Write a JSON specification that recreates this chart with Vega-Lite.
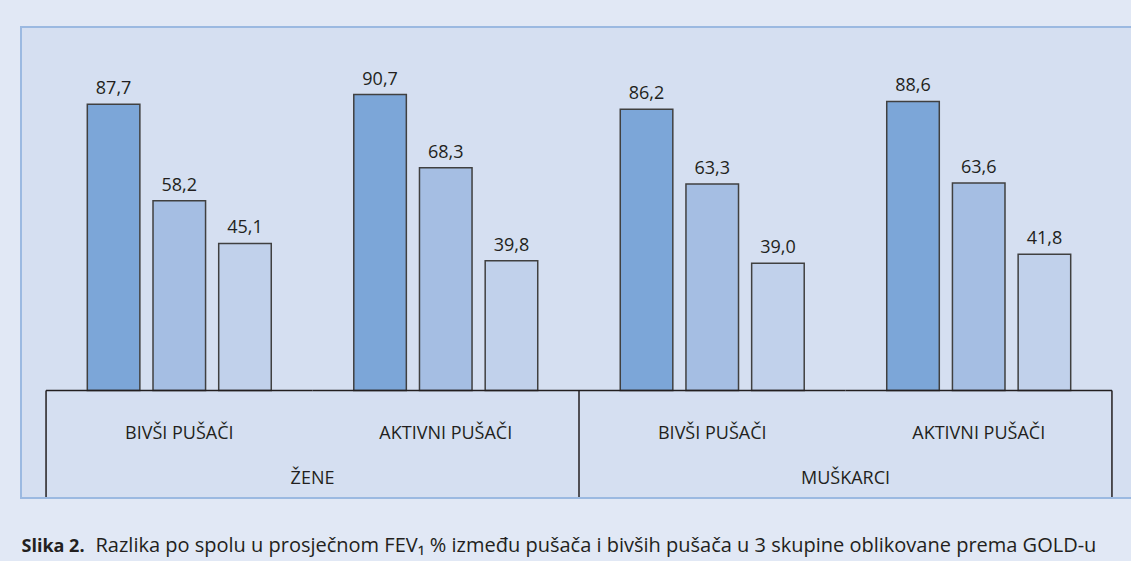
{
  "$schema": "https://vega.github.io/schema/vega-lite/v6.json",
  "width": 1116,
  "height": 471,
  "padding": {"left": 21, "top": 27, "right": 0, "bottom": 6},
  "background": "#e1e8f5",
  "config": {
    "view": {"fill": "#d5dff1", "stroke": "#9bb9e1", "strokeWidth": 2},
    "font": "Open Sans",
    "locale": {"number": {"decimal": ",", "thousands": ".", "grouping": [3], "currency": ["", " €"]}}
  },
  "datasets": {
    "stupci": [
      {"grupa": "ŽENE|BIVŠI PUŠAČI", "serija": "GOLD 1", "fev1": 87.7},
      {"grupa": "ŽENE|BIVŠI PUŠAČI", "serija": "GOLD 2", "fev1": 58.2},
      {"grupa": "ŽENE|BIVŠI PUŠAČI", "serija": "GOLD 3", "fev1": 45.1},
      {"grupa": "ŽENE|AKTIVNI PUŠAČI", "serija": "GOLD 1", "fev1": 90.7},
      {"grupa": "ŽENE|AKTIVNI PUŠAČI", "serija": "GOLD 2", "fev1": 68.3},
      {"grupa": "ŽENE|AKTIVNI PUŠAČI", "serija": "GOLD 3", "fev1": 39.8},
      {"grupa": "MUŠKARCI|BIVŠI PUŠAČI", "serija": "GOLD 1", "fev1": 86.2},
      {"grupa": "MUŠKARCI|BIVŠI PUŠAČI", "serija": "GOLD 2", "fev1": 63.3},
      {"grupa": "MUŠKARCI|BIVŠI PUŠAČI", "serija": "GOLD 3", "fev1": 39.0},
      {"grupa": "MUŠKARCI|AKTIVNI PUŠAČI", "serija": "GOLD 1", "fev1": 88.6},
      {"grupa": "MUŠKARCI|AKTIVNI PUŠAČI", "serija": "GOLD 2", "fev1": 63.6},
      {"grupa": "MUŠKARCI|AKTIVNI PUŠAČI", "serija": "GOLD 3", "fev1": 41.8}
    ],
    "skupine": [
      {"grupa": "ŽENE|BIVŠI PUŠAČI", "pusenje": "BIVŠI PUŠAČI"},
      {"grupa": "ŽENE|AKTIVNI PUŠAČI", "pusenje": "AKTIVNI PUŠAČI"},
      {"grupa": "MUŠKARCI|BIVŠI PUŠAČI", "pusenje": "BIVŠI PUŠAČI"},
      {"grupa": "MUŠKARCI|AKTIVNI PUŠAČI", "pusenje": "AKTIVNI PUŠAČI"}
    ],
    "spolovi": [
      {"grupa": "ŽENE|BIVŠI PUŠAČI", "spol": "ŽENE"},
      {"grupa": "MUŠKARCI|BIVŠI PUŠAČI", "spol": "MUŠKARCI"}
    ]
  },
  "encoding": {
    "x": {
      "field": "grupa",
      "type": "nominal",
      "sort": null,
      "scale": {
        "domain": ["ŽENE|BIVŠI PUŠAČI", "ŽENE|AKTIVNI PUŠAČI", "MUŠKARCI|BIVŠI PUŠAČI", "MUŠKARCI|AKTIVNI PUŠAČI"],
        "paddingInner": 0,
        "paddingOuter": 0.094
      },
      "title": "Razlika po spolu u prosječnom FEV₁ % između pušača i bivših pušača u 3 skupine oblikovane prema GOLD-u",
      "axis": {
        "labels": false, "ticks": false, "domain": false, "grid": false,
        "title": "Razlika po spolu u prosječnom FEV₁ % između pušača i bivših pušača u 3 skupine oblikovane prema GOLD-u",
        "titleX": 74, "titleY": 53, "titleAlign": "left", "titleAnchor": "start", "titleBaseline": "alphabetic",
        "titleFontSize": 20, "titleFontWeight": "normal", "titleColor": "#231f20", "titleFont": "Open Sans"
      }
    }
  },
  "layer": [
    {
      "data": {"name": "stupci"},
      "mark": {"type": "bar", "stroke": "#404040", "strokeWidth": 1.5},
      "encoding": {
        "xOffset": {"field": "serija", "type": "nominal", "scale": {"paddingInner": 0.2, "paddingOuter": 0.628}},
        "y": {
          "field": "fev1", "type": "quantitative",
          "scale": {"domain": [-32.9, 111.4], "nice": false, "zero": false},
          "title": "Slika 2.",
          "axis": {
            "labels": false, "ticks": false, "domain": false, "grid": false,
            "title": "Slika 2.", "titleAngle": 0, "titleX": 0, "titleY": 524, "titleAlign": "left",
            "titleAnchor": "start", "titleBaseline": "alphabetic", "titleFontSize": 18, "titleFontWeight": "bold",
            "titleColor": "#231f20", "titleFont": "Open Sans"
          }
        },
        "y2": {"datum": 0},
        "color": {"field": "serija", "type": "nominal", "scale": {"range": ["#7ca6d8", "#a5bee3", "#c1d1eb"]}, "legend": null}
      }
    },
    {
      "data": {"name": "stupci"},
      "mark": {"type": "text", "dy": -10, "baseline": "alphabetic", "fontSize": 18, "color": "#231f20"},
      "encoding": {
        "xOffset": {"field": "serija", "type": "nominal", "scale": {"paddingInner": 0.2, "paddingOuter": 0.628}},
        "y": {"field": "fev1", "type": "quantitative", "scale": {"domain": [-32.9, 111.4], "nice": false, "zero": false}, "title": "Slika 2."},
        "text": {"field": "fev1", "type": "quantitative", "format": ".1f"}
      }
    },
    {
      "data": {"name": "skupine"},
      "mark": {"type": "bar", "fill": null, "fillOpacity": 0, "stroke": "#231f20", "strokeWidth": 1.5},
      "encoding": {
        "y": {"datum": 0, "type": "quantitative", "scale": {"domain": [-32.9, 111.4], "nice": false, "zero": false}, "title": "Slika 2."},
        "y2": {"datum": 0}
      }
    },
    {
      "data": {"name": "skupine"},
      "mark": {"type": "text", "baseline": "alphabetic", "fontSize": 18, "color": "#231f20"},
      "encoding": {
        "y": {"datum": -14.9, "type": "quantitative", "scale": {"domain": [-32.9, 111.4], "nice": false, "zero": false}, "title": "Slika 2."},
        "text": {"field": "pusenje"}
      }
    },
    {
      "data": {"name": "spolovi"},
      "mark": {"type": "text", "baseline": "alphabetic", "fontSize": 18, "color": "#231f20"},
      "encoding": {
        "x": {"field": "grupa", "type": "nominal", "sort": null, "bandPosition": 1,
          "title": "Razlika po spolu u prosječnom FEV₁ % između pušača i bivših pušača u 3 skupine oblikovane prema GOLD-u"},
        "y": {"datum": -28.6, "type": "quantitative", "scale": {"domain": [-32.9, 111.4], "nice": false, "zero": false}, "title": "Slika 2."},
        "text": {"field": "spol"}
      }
    },
    {
      "data": {"name": "spolovi"},
      "mark": {"type": "rule", "stroke": "#231f20", "strokeWidth": 1.5},
      "encoding": {
        "x": {"field": "grupa", "type": "nominal", "sort": null, "bandPosition": 0,
          "title": "Razlika po spolu u prosječnom FEV₁ % između pušača i bivših pušača u 3 skupine oblikovane prema GOLD-u"},
        "y": {"datum": 0, "type": "quantitative", "scale": {"domain": [-32.9, 111.4], "nice": false, "zero": false}, "title": "Slika 2."},
        "y2": {"datum": -32.6}
      }
    },
    {
      "data": {"name": "skupine"},
      "transform": [{"filter": "datum.grupa === 'MUŠKARCI|AKTIVNI PUŠAČI'"}],
      "mark": {"type": "rule", "stroke": "#231f20", "strokeWidth": 1.5},
      "encoding": {
        "x": {"field": "grupa", "type": "nominal", "sort": null, "bandPosition": 1,
          "title": "Razlika po spolu u prosječnom FEV₁ % između pušača i bivših pušača u 3 skupine oblikovane prema GOLD-u"},
        "y": {"datum": 0, "type": "quantitative", "scale": {"domain": [-32.9, 111.4], "nice": false, "zero": false}, "title": "Slika 2."},
        "y2": {"datum": -32.6}
      }
    }
  ]
}
